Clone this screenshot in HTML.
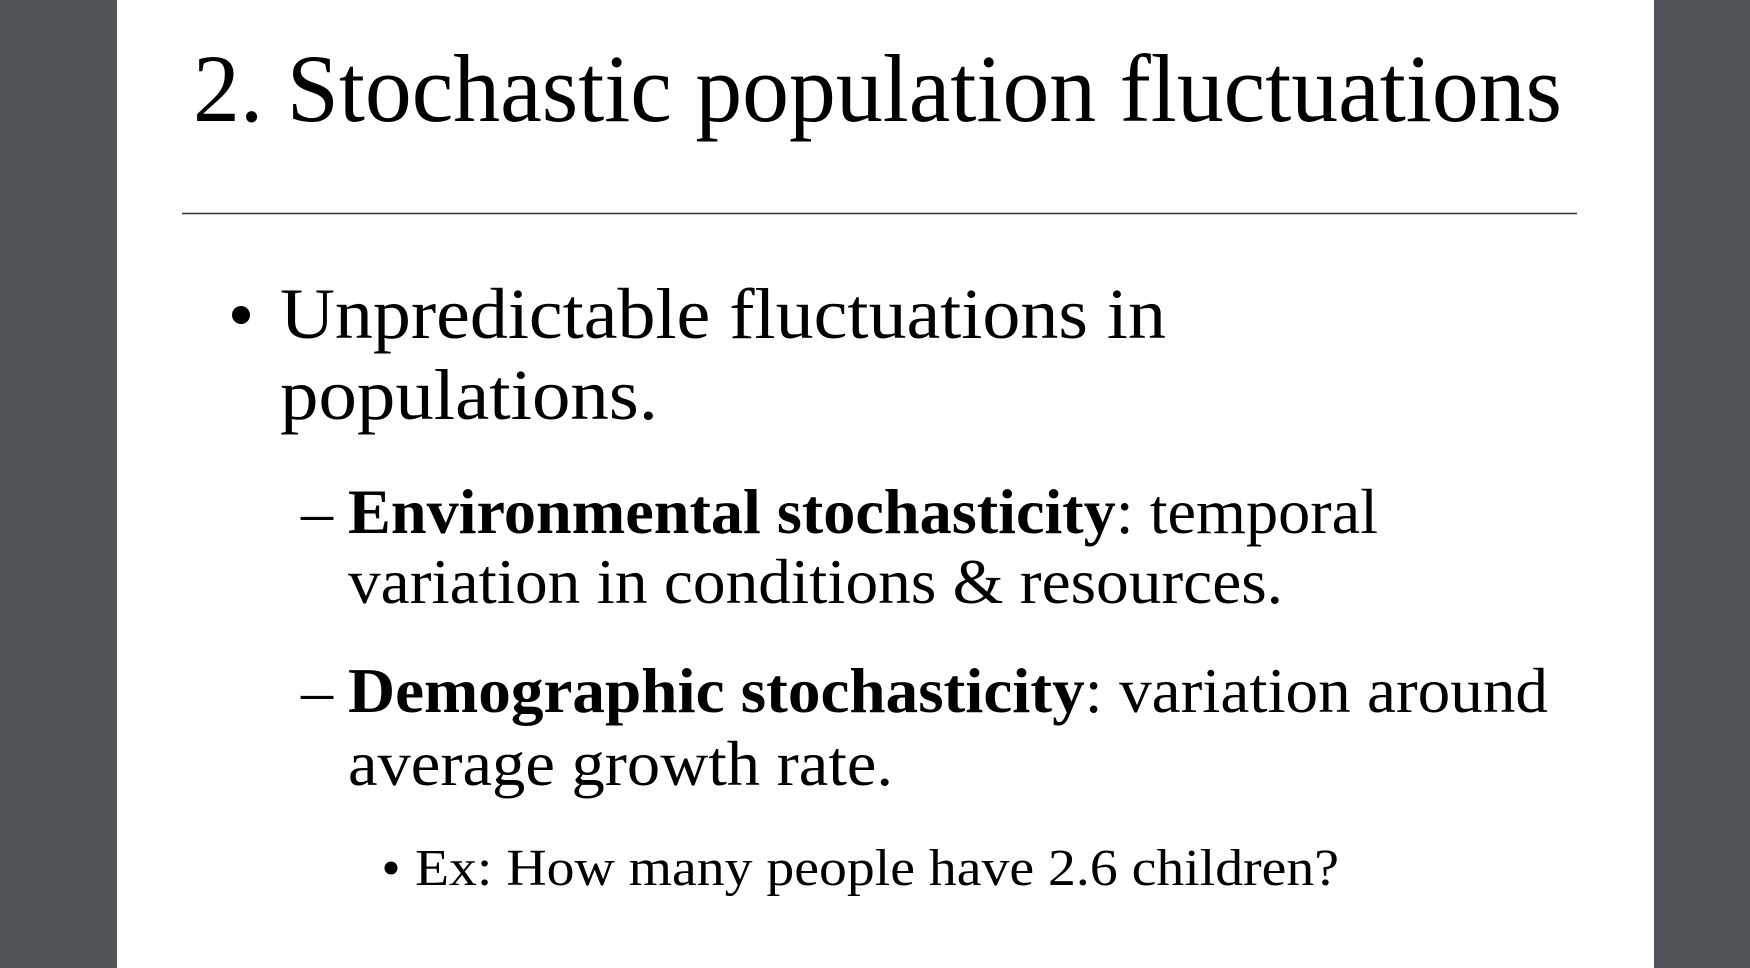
<!DOCTYPE html>
<html>
<head>
<meta charset="utf-8">
<style>
html,body{margin:0;padding:0;width:1750px;height:968px;overflow:hidden;background:#505458;}
svg{display:block;}
text{font-family:"Liberation Serif",serif;fill:#000;}
</style>
</head>
<body>
<svg width="1750" height="968" viewBox="0 0 1750 968">
  <rect x="0" y="0" width="117" height="968" fill="#505458"/>
  <rect x="1654" y="0" width="96" height="968" fill="#505458"/>
  <rect x="117" y="0" width="1537" height="968" fill="#ffffff"/>

  <text x="193" y="121" font-size="96" textLength="1369" lengthAdjust="spacingAndGlyphs">2. Stochastic population fluctuations</text>
  <line x1="182" y1="213.5" x2="1577" y2="213.5" stroke="#333" stroke-width="1.5"/>

  <circle cx="241" cy="315" r="9" fill="#000"/>
  <text x="280" y="338" font-size="72" textLength="886" lengthAdjust="spacingAndGlyphs">Unpredictable fluctuations in</text>
  <text x="280" y="419" font-size="72" textLength="378" lengthAdjust="spacingAndGlyphs">populations.</text>

  <text x="301" y="533" font-size="64">–</text>
  <text x="348" y="533" font-size="64" textLength="1030" lengthAdjust="spacingAndGlyphs"><tspan font-weight="bold">Environmental stochasticity</tspan>: temporal</text>
  <text x="348" y="603" font-size="64" textLength="935" lengthAdjust="spacingAndGlyphs">variation in conditions &amp; resources.</text>

  <text x="301" y="712" font-size="64">–</text>
  <text x="348" y="712" font-size="64" textLength="1200" lengthAdjust="spacingAndGlyphs"><tspan font-weight="bold">Demographic stochasticity</tspan>: variation around</text>
  <text x="348" y="785" font-size="64" textLength="545" lengthAdjust="spacingAndGlyphs">average growth rate.</text>

  <circle cx="391" cy="868" r="6.5" fill="#000"/>
  <text x="415" y="885" font-size="52" textLength="924" lengthAdjust="spacingAndGlyphs">Ex: How many people have 2.6 children?</text>
</svg>
</body>
</html>
